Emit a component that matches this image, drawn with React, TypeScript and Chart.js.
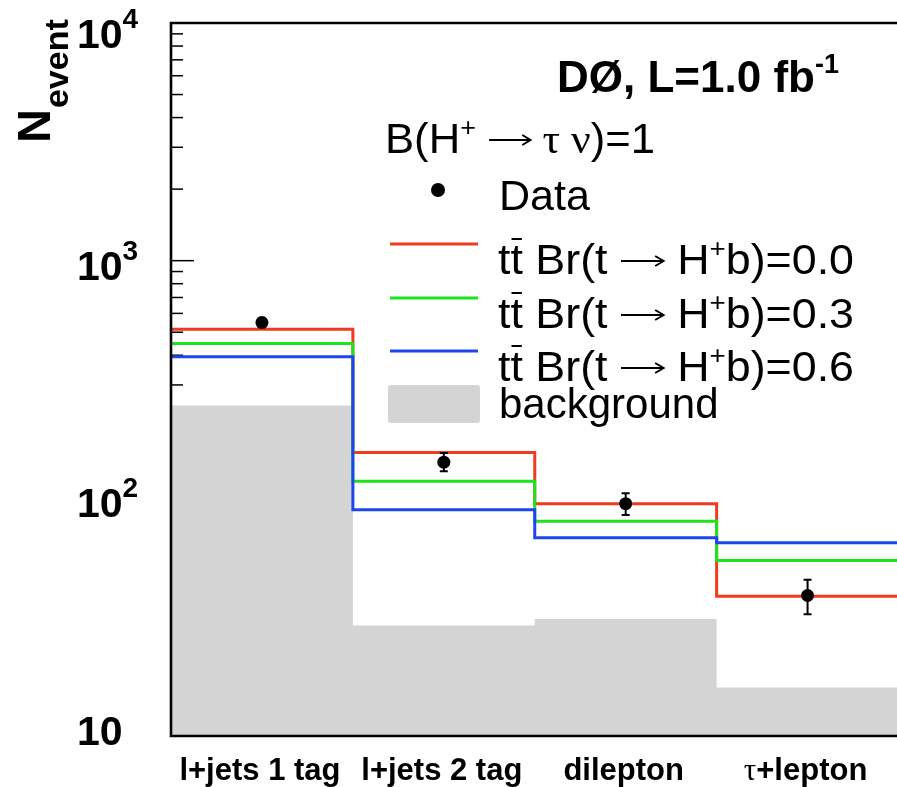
import React, { useEffect, useRef } from "react";
import { Chart, registerables } from "chart.js";
Chart.register(...registerables);

// ---- data ----
const categories = ["l+jets 1 tag", "l+jets 2 tag", "dilepton", "τ+lepton"];
const dataValues = [549, 142, 95, 39];
const dataErrLow = [527, 130, 85, 32.5];
const dataErrHigh = [572, 155, 105, 45.4];
const br00 = [515, 156, 95, 38.7];
const br03 = [448, 118, 80, 54.8];
const br06 = [394, 89.6, 68.3, 65];
const background = [246, 29.2, 31.1, 16.0];
const yMajorTicks = [10, 100, 1000, 10000];
const yTickExponents = ["", "2", "3", "4"];
const legendLabels = ["Data", "0.0", "0.3", "0.6", "background"];

const SANS = '"Liberation Sans", Arial, Helvetica, sans-serif';
const SERIF = '"Liberation Serif", "Times New Roman", serif';
const RED = "rgb(242,58,30)";
const GREEN = "rgb(28,228,28)";
const BLUE = "rgb(30,68,236)";
const GRAY = "#d4d4d4";

const CW = 905;
const CH = 787;

// bin i spans [i, i+1]; closing point at the last edge
const steps = (vals: number[]) => [
  ...vals.map((v, i) => ({ x: i, y: v })),
  { x: vals.length, y: vals[vals.length - 1] },
];

type Part = { t: string; f: string; dy?: number; bar?: boolean; arrow?: number };

function drawRich(
  ctx: CanvasRenderingContext2D,
  x: number,
  y: number,
  parts: Part[],
  opts: { align?: "left" | "center"; width?: number } = {}
) {
  let total = 0;
  const ws = parts.map((p) => {
    if (p.arrow) {
      total += p.arrow;
      return p.arrow;
    }
    ctx.font = p.f;
    const w = ctx.measureText(p.t).width;
    total += w;
    return w;
  });
  const sx = opts.width ? opts.width / total : 1;
  let x0 = x;
  if (opts.align === "center") x0 = x - (total * sx) / 2;
  ctx.save();
  ctx.translate(x0, y);
  ctx.scale(sx, 1);
  ctx.textAlign = "left";
  ctx.textBaseline = "alphabetic";
  let cx = 0;
  parts.forEach((p, i) => {
    if (p.arrow) {
      const ay = -13;
      ctx.beginPath();
      ctx.lineWidth = 1.8;
      ctx.moveTo(cx + 1, ay);
      ctx.lineTo(cx + p.arrow - 1, ay);
      ctx.moveTo(cx + p.arrow - 9, ay - 5);
      ctx.lineTo(cx + p.arrow - 1, ay);
      ctx.lineTo(cx + p.arrow - 9, ay + 5);
      ctx.stroke();
      cx += ws[i];
      return;
    }
    ctx.font = p.f;
    ctx.fillText(p.t, cx, p.dy || 0);
    if (p.bar) {
      const wt = ctx.measureText("t").width;
      ctx.beginPath();
      ctx.lineWidth = 2;
      ctx.moveTo(cx + wt + 1, -35);
      ctx.lineTo(cx + 2 * wt - 1, -35);
      ctx.stroke();
    }
    cx += ws[i];
  });
  ctx.restore();
}

const histPlugin = {
  id: "histDecor",
  beforeDatasetsDraw(chart: any) {
    const { ctx, chartArea, scales } = chart;
    const y = scales.y;
    const x = scales.x;
    ctx.save();
    ctx.strokeStyle = "#000";
    ctx.lineWidth = 1.5;
    for (let d = 10; d < 10000; d *= 10) {
      for (let k = 1; k <= 9; k++) {
        const py = y.getPixelForValue(k * d);
        const len = k === 1 ? 23 : 12;
        ctx.beginPath();
        ctx.moveTo(chartArea.left, py);
        ctx.lineTo(chartArea.left + len, py);
        ctx.stroke();
      }
    }
    for (let i = 1; i < categories.length; i++) {
      const px = x.getPixelForValue(i);
      ctx.beginPath();
      ctx.moveTo(px, chartArea.bottom);
      ctx.lineTo(px, chartArea.bottom - 7);
      ctx.stroke();
    }
    ctx.restore();
  },
  afterDatasetsDraw(chart: any) {
    const { ctx, chartArea, scales } = chart;
    const y = scales.y;
    const x = scales.x;
    ctx.save();
    ctx.strokeStyle = "#000";
    ctx.lineWidth = 2;
    dataValues.forEach((v, i) => {
      const px = x.getPixelForValue(i + 0.5);
      const yl = y.getPixelForValue(dataErrLow[i]);
      const yh = y.getPixelForValue(dataErrHigh[i]);
      ctx.beginPath();
      ctx.moveTo(px, yl);
      ctx.lineTo(px, yh);
      ctx.moveTo(px - 4, yl);
      ctx.lineTo(px + 4, yl);
      ctx.moveTo(px - 4, yh);
      ctx.lineTo(px + 4, yh);
      ctx.stroke();
    });
    ctx.lineWidth = 2.6;
    ctx.beginPath();
    ctx.moveTo(chartArea.right + 5, chartArea.top);
    ctx.lineTo(chartArea.left, chartArea.top);
    ctx.lineTo(chartArea.left, chartArea.bottom);
    ctx.lineTo(chartArea.right + 5, chartArea.bottom);
    ctx.stroke();
    ctx.restore();
  },
  afterDraw(chart: any) {
    const { ctx, chartArea, scales } = chart;
    const y = scales.y;
    const x = scales.x;
    ctx.save();
    ctx.fillStyle = "#000";
    ctx.strokeStyle = "#000";

    yMajorTicks.forEach((v, i) => {
      const py = y.getPixelForValue(v);
      const base = Math.min(Math.max(py + 19, chartArea.top + 25), chartArea.bottom + 9);
      const parts: Part[] = [{ t: "10", f: `bold 41px ${SANS}` }];
      if (yTickExponents[i]) parts.push({ t: yTickExponents[i], f: `bold 28px ${SANS}`, dy: -20 });
      drawRich(ctx, 77, base, parts);
    });

    categories.forEach((c, i) => {
      const px = x.getPixelForValue(i + 0.5) - 2;
      let parts: Part[];
      if (c.startsWith("τ")) {
        parts = [
          { t: "τ", f: `31px ${SERIF}` },
          { t: c.slice(1), f: `bold 31px ${SANS}` },
        ];
      } else parts = [{ t: c, f: `bold 31px ${SANS}` }];
      drawRich(ctx, px, 780, parts, { align: "center" });
    });

    ctx.save();
    ctx.translate(50, 143);
    ctx.rotate(-Math.PI / 2);
    ctx.font = `bold 47px ${SANS}`;
    ctx.textBaseline = "alphabetic";
    ctx.fillText("N", 0, 0);
    const nw = ctx.measureText("N").width;
    ctx.font = `bold 34px ${SANS}`;
    ctx.fillText("event", nw + 1, 18);
    ctx.restore();

    drawRich(ctx, 557, 92, [
      { t: "DØ, L=1.0 fb", f: `bold 44px ${SANS}` },
      { t: "-1", f: `bold 27px ${SANS}`, dy: -19 },
    ]);

    drawRich(
      ctx,
      385,
      153,
      [
        { t: "B(H", f: `42px ${SANS}` },
        { t: "+", f: `26px ${SANS}`, dy: -17 },
        { t: " ", f: `42px ${SANS}` },
        { t: "", f: "", arrow: 42 },
        { t: " τ ν", f: `42px ${SERIF}` },
        { t: ")=1", f: `42px ${SANS}` },
      ],
      { width: 270 }
    );

    ctx.beginPath();
    ctx.arc(438, 190, 7, 0, Math.PI * 2);
    ctx.fill();
    drawRich(ctx, 499, 210, [{ t: legendLabels[0], f: `42px ${SANS}` }], { width: 91 });

    const rows = [
      { c: RED, y: 244, lab: legendLabels[1] },
      { c: GREEN, y: 298, lab: legendLabels[2] },
      { c: BLUE, y: 351, lab: legendLabels[3] },
    ];
    rows.forEach((r) => {
      ctx.strokeStyle = r.c;
      ctx.lineWidth = 3;
      ctx.beginPath();
      ctx.moveTo(390, r.y);
      ctx.lineTo(478, r.y);
      ctx.stroke();
      ctx.strokeStyle = "#000";
      drawRich(
        ctx,
        498,
        r.y + 30,
        [
          { t: "tt", f: `42px ${SANS}`, bar: true },
          { t: " Br(t ", f: `42px ${SANS}` },
          { t: "", f: "", arrow: 42 },
          { t: " H", f: `42px ${SANS}` },
          { t: "+", f: `26px ${SANS}`, dy: -17 },
          { t: "b)=" + r.lab, f: `42px ${SANS}` },
        ],
        { width: 356 }
      );
    });

    ctx.fillStyle = GRAY;
    ctx.beginPath();
    (ctx as any).roundRect ? (ctx as any).roundRect(388, 385, 92, 38, 3) : ctx.rect(388, 385, 92, 38);
    ctx.fill();
    ctx.fillStyle = "#000";
    drawRich(ctx, 499, 418, [{ t: legendLabels[4], f: `42px ${SANS}` }]);

    ctx.restore();
  },
};

export default function App() {
  const ref = useRef<HTMLCanvasElement>(null);
  useEffect(() => {
    const canvas = ref.current!;
    const line = (label: string, vals: number[], color: string, order: number) => ({
      label,
      data: steps(vals),
      stepped: "before",
      borderColor: color,
      borderWidth: 3,
      pointRadius: 0,
      fill: false,
      order,
    });
    const chart = new Chart(canvas, {
      type: "line",
      data: {
        datasets: [
          {
            type: "scatter",
            label: "Data",
            data: dataValues.map((v, i) => ({ x: i + 0.5, y: v })),
            pointRadius: 6.5,
            pointBackgroundColor: "#000",
            pointBorderWidth: 0,
            showLine: false,
            order: 0,
          } as any,
          line("Br 0.6", br06, BLUE, 1),
          line("Br 0.3", br03, GREEN, 2),
          line("Br 0.0", br00, RED, 3),
          {
            label: "background",
            data: steps(background),
            stepped: "before",
            borderWidth: 0,
            borderColor: GRAY,
            backgroundColor: GRAY,
            pointRadius: 0,
            fill: "start",
            order: 4,
          },
        ] as any,
      },
      options: {
        responsive: false,
        animation: false,
        devicePixelRatio: 1,
        parsing: false as any,
        layout: { padding: { left: 171, top: 23, right: CW - 903, bottom: CH - 736 } },
        scales: {
          x: { type: "linear", min: 0, max: 4, display: false },
          y: { type: "logarithmic", min: 10, max: 10000, display: false },
        },
        plugins: { legend: { display: false }, tooltip: { enabled: false } },
      },
      plugins: [histPlugin],
    });
    return () => chart.destroy();
  }, []);
  return (
    <div
      style={{
        position: "fixed",
        left: 0,
        top: 0,
        width: 897,
        height: 787,
        overflow: "hidden",
        background: "#fff",
      }}
    >
      <canvas ref={ref} width={CW} height={CH} style={{ display: "block", width: CW, height: CH }} />
    </div>
  );
}
